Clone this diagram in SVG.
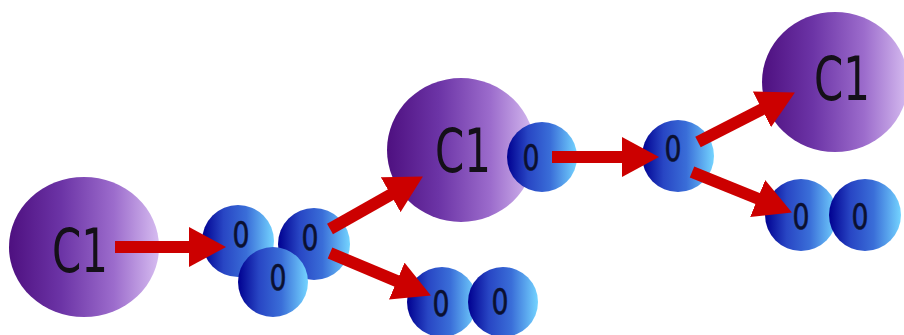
<svg xmlns="http://www.w3.org/2000/svg" width="904" height="335" viewBox="0 0 904 335">
  <defs>
    <linearGradient id="gradCl" x1="0" y1="0" x2="1" y2="0">
      <stop offset="0" stop-color="#4e1080"/>
      <stop offset="0.35" stop-color="#6c34a6"/>
      <stop offset="0.7" stop-color="#9c6ccc"/>
      <stop offset="1" stop-color="#d6bcf0"/>
    </linearGradient>
    <linearGradient id="gradO" x1="0" y1="0" x2="1" y2="0">
      <stop offset="0" stop-color="#000090"/>
      <stop offset="0.3" stop-color="#2846c4"/>
      <stop offset="0.62" stop-color="#3a6ed8"/>
      <stop offset="1" stop-color="#74d4ff"/>
    </linearGradient>
    <marker id="head" markerUnits="userSpaceOnUse" markerWidth="38" markerHeight="40" refX="6" refY="20" orient="auto" viewBox="0 0 38 40">
      <path d="M0,0 L37,20 L0,40 Z" fill="#cc0000"/>
    </marker>
    <style>
      .cl { fill: url(#gradCl); }
      .o { fill: url(#gradO); }
      .clt { font-family: "DejaVu Sans", sans-serif; font-size: 60px; fill: #141018; text-anchor: middle; }
      .ot { font-family: "DejaVu Sans", sans-serif; font-size: 36px; fill: #0b1030; text-anchor: middle; stroke: #0b1030; stroke-width: 0.6; }
      .arrow { stroke: #cc0000; stroke-width: 12; fill: none; marker-end: url(#head); }
    </style>
  </defs>

  <!-- chlorine atoms -->
  <g id="cl-left">
    <ellipse class="cl" cx="84" cy="247" rx="75" ry="70"/>
    <text class="clt" x="80" y="272" textLength="56" lengthAdjust="spacingAndGlyphs">C1</text>
  </g>
  <g id="cl-middle">
    <ellipse class="cl" cx="461" cy="150" rx="74" ry="72"/>
    <text class="clt" x="463" y="172" textLength="56" lengthAdjust="spacingAndGlyphs">C1</text>
  </g>
  <g id="cl-right">
    <ellipse class="cl" cx="835" cy="82" rx="73" ry="70"/>
    <text class="clt" x="842" y="100" textLength="56" lengthAdjust="spacingAndGlyphs">C1</text>
  </g>

  <!-- ozone molecule -->
  <g id="o-a">
    <circle class="o" cx="238" cy="241" r="36"/>
    <text class="ot" x="241" y="247" textLength="17" lengthAdjust="spacingAndGlyphs">0</text>
  </g>
  <g id="o-b">
    <circle class="o" cx="314" cy="244" r="36"/>
    <text class="ot" x="310" y="250" textLength="17" lengthAdjust="spacingAndGlyphs">0</text>
  </g>
  <g id="o-c">
    <circle class="o" cx="273" cy="282" r="35"/>
    <text class="ot" x="278" y="290" textLength="17" lengthAdjust="spacingAndGlyphs">0</text>
  </g>

  <!-- oxygen molecule, lower middle -->
  <g id="o-d">
    <circle class="o" cx="442" cy="302" r="35"/>
    <text class="ot" x="441" y="316" textLength="17" lengthAdjust="spacingAndGlyphs">0</text>
  </g>
  <g id="o-e">
    <circle class="o" cx="503" cy="302" r="35"/>
    <text class="ot" x="500" y="314" textLength="17" lengthAdjust="spacingAndGlyphs">0</text>
  </g>

  <!-- oxygen bound to middle chlorine -->
  <g id="o-f">
    <circle class="o" cx="542" cy="157" r="35"/>
    <text class="ot" x="531" y="170" textLength="17" lengthAdjust="spacingAndGlyphs">0</text>
  </g>

  <!-- free oxygen atom -->
  <g id="o-g">
    <circle class="o" cx="678" cy="156" r="36"/>
    <text class="ot" x="673" y="161" textLength="17" lengthAdjust="spacingAndGlyphs">0</text>
  </g>

  <!-- oxygen molecule, right -->
  <g id="o-h">
    <circle class="o" cx="801" cy="215" r="36"/>
    <text class="ot" x="801" y="229" textLength="17" lengthAdjust="spacingAndGlyphs">0</text>
  </g>
  <g id="o-i">
    <circle class="o" cx="865" cy="215" r="36"/>
    <text class="ot" x="860" y="229" textLength="17" lengthAdjust="spacingAndGlyphs">0</text>
  </g>

  <!-- reaction arrows -->
  <g id="connectors">
    <line class="arrow" x1="115" y1="247" x2="195" y2="247"/>
    <line class="arrow" x1="330" y1="229" x2="395.9" y2="191.8"/>
    <line class="arrow" x1="330" y1="253" x2="402.3" y2="283.4"/>
    <line class="arrow" x1="552" y1="157" x2="628" y2="157"/>
    <line class="arrow" x1="698" y1="142" x2="767.3" y2="106.6"/>
    <line class="arrow" x1="692" y1="172" x2="763.2" y2="200.8"/>
  </g>
</svg>
